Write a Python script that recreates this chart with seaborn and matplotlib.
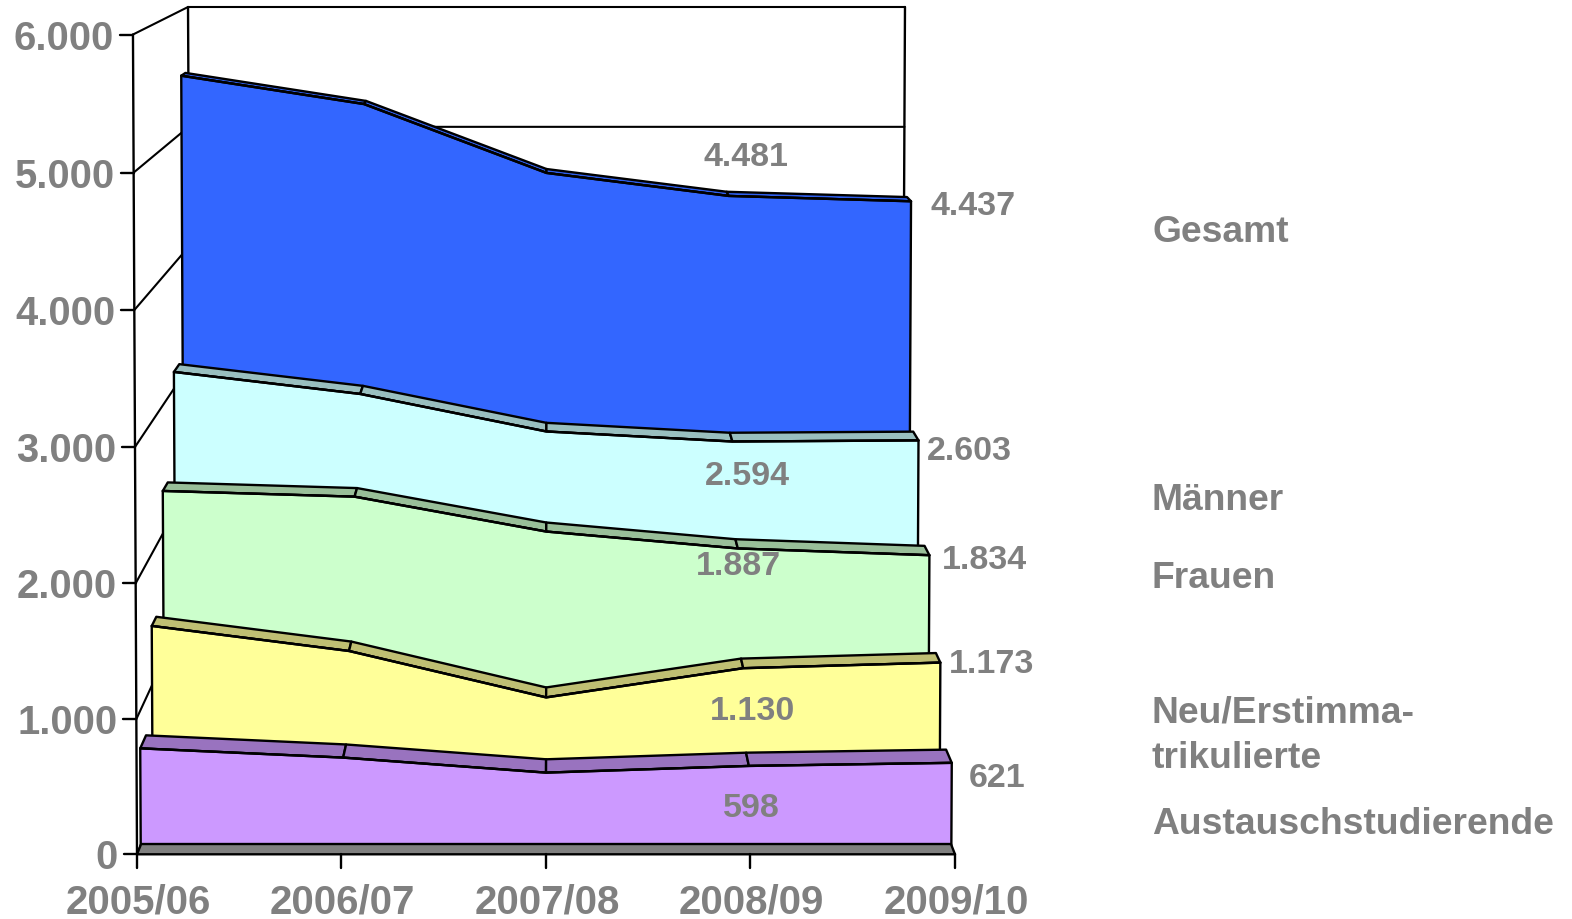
import seaborn as sns
import matplotlib
matplotlib.use("Agg")
import matplotlib.pyplot as plt
import pandas as pd
import numpy as np

sns.set_theme(style="white")
plt.rcParams['font.family'] = ['Liberation Sans', 'DejaVu Sans']

# --- DATA ---
years = ['2005/06', '2006/07', '2007/08', '2008/09', '2009/10']
y_ticks = [0, 1000, 2000, 3000, 4000, 5000, 6000]
y_tick_labels = ['0', '1.000', '2.000', '3.000', '4.000', '5.000', '6.000']

gesamt = [5467, 5235, 4670, 4481, 4437]
maenner = [3154, 2977, 2675, 2594, 2603]
frauen = [2339, 2294, 2020, 1887, 1834]
neu = [1454, 1262, 906, 1130, 1173]
austausch = [729, 660, 548, 598, 621]

# back to front, this is the draw order
series_names = ['Gesamt', 'Männer', 'Frauen', 'Neu', 'Austausch']
series_values = [gesamt, maenner, frauen, neu, austausch]
front_colors = ['#3366FF', '#CCFFFF', '#CCFFCC', '#FFFF99', '#CC99FF']
top_colors = ['#2F5FEE', '#99BFBF', '#99BF99', '#BFBF73', '#9973BF']

# perspective depth of each band (1 = front of the chart)
depth_front = [0.885, 0.910, 0.935, 0.962, 0.992]
depth_back = [0.875, 0.897, 0.923, 0.951, 0.978]
narrow = [0.0, 0.004, 0.001, 0.0, 0.001]    # bands are a touch narrower than their height depth
depth_wall = 0.868
depth_floor = 0.990

# vanishing point in data units, lean of the verticals, bow of the value axis
VANISH_X = 2.02
VANISH_Y = 7526.0
LEAN = 1.63e-6
BOW = 2.1e-6

W, H = 1572, 919
UNIT_X = 204.5      # pixels per category
UNIT_Y = 0.13663    # pixels per student
X0, Y0 = 137.0, 854.3
GREY = '#808080'
LW = 1.7


def project(x, v, s, cut=0.0):
    """Category index + value + depth -> front plane data coordinates."""
    x = np.asarray(x, dtype=float)
    v = np.asarray(v, dtype=float)
    px = VANISH_X + (x - VANISH_X) * (s - cut) * (1 + LEAN * v)
    py = VANISH_Y + (v - BOW * v * (6000 - v) - VANISH_Y) * s
    return px, py


def label(x, y, s, size, ha='center'):
    fig.text(x / W, 1 - y / H, s, fontsize=size, fontweight='bold', color=GREY,
             ha=ha, va='center_baseline')


fig = plt.figure(figsize=(W / 100, H / 100), dpi=100, facecolor='white')
ax = fig.add_axes([0, 0, 1, 1])

idx = np.arange(len(years))

# --- WALLS AND GRID ---
for tick in y_ticks:
    fx, fy = project(0, tick, 1.0)
    bx, by = project(0, tick, depth_wall)
    rx, ry = project(4, tick, depth_wall)
    ax.plot([fx, bx, rx], [fy, by, ry], color='black', lw=1.5, zorder=1)
    ax.plot([fx - 13 / UNIT_X, fx], [fy, fy], color='black', lw=LW, zorder=1)

for end in [0, 4]:
    wx, wy = project([end, end], [0, 6000], depth_wall)
    ax.plot(wx, wy, color='black', lw=LW, zorder=1)

axis_x, axis_y = project([0, 0], [0, 6000], 1.0)
ax.plot(axis_x, axis_y, color='black', lw=LW, zorder=1)

# --- BANDS ---
z = 2
for name, vals, cf, ct, s_f, s_b, cut in zip(series_names, series_values, front_colors,
                                             top_colors, depth_front, depth_back, narrow):
    vals = np.array(vals, dtype=float)
    fx, fy = project(idx, vals, s_f, cut)
    bx, by = project(idx, vals, s_b, cut)
    base_l = project(0, 0, s_f, cut)
    base_r = project(4, 0, s_f, cut)

    # top slab, one piece per category step
    for i in range(len(idx) - 1):
        ax.fill([fx[i], fx[i + 1], bx[i + 1], bx[i]],
                [fy[i], fy[i + 1], by[i + 1], by[i]],
                facecolor=ct, edgecolor='black', lw=LW, joinstyle='round', zorder=z)

    ax.fill(np.r_[base_l[0], fx, base_r[0]], np.r_[base_l[1], fy, base_r[1]],
            facecolor=cf, edgecolor='black', lw=LW, joinstyle='round', zorder=z + 1)

    df = pd.DataFrame({'x': fx, 'y': fy})
    sns.lineplot(data=df, x='x', y='y', color='black', linewidth=LW,
                 errorbar=None, sort=False, ax=ax, zorder=z + 2)
    z += 3

# --- FLOOR PLATE ---
fl_x0, fl_y0 = project([0, 4], [0, 0], 1.0)
fl_x1, fl_y1 = project([4, 0], [0, 0], depth_floor)
ax.fill(np.r_[fl_x0, fl_x1], np.r_[fl_y0, fl_y1], facecolor=GREY, edgecolor='black',
        lw=LW, joinstyle='round', zorder=z)

# x ticks hang below the floor
for i in idx:
    ax.plot([i, i], [0, -100], color='black', lw=LW, zorder=z)

ax.set_xlim(-X0 / UNIT_X, (W - X0) / UNIT_X)
ax.set_ylim((Y0 - H) / UNIT_Y, Y0 / UNIT_Y)
ax.axis('off')

# --- TEXT ---
for tick, txt in zip(y_ticks, y_tick_labels):
    fx, fy = project(0, tick, 1.0)
    label(X0 + fx * UNIT_X - 19, Y0 - fy * UNIT_Y, txt, 28.8, ha='right')

for i, txt in zip(idx, years):
    label(X0 + i * UNIT_X + 1, 899, txt, 29)

value_labels = ['4.481', '4.437', '2.594', '2.603', '1.887', '1.834',
                '1.130', '1.173', '598', '621']
value_x = [746, 973, 747, 969, 738, 984, 752, 992, 751, 997]
value_y = [154, 203, 473, 448, 563, 557, 708, 661, 805, 775]
for x, y, txt in zip(value_x, value_y, value_labels):
    label(x, y, txt, 24.5)

legend_labels = ['Gesamt', 'Männer', 'Frauen', 'Neu/Erstimma-', 'trikulierte', 'Austauschstudierende']
legend_y = [228, 496, 575, 709, 754, 820]
for y, txt in zip(legend_y, legend_labels):
    label(1152, y, txt, 26.8, ha='left')

fig.savefig('out.png', dpi=100)
